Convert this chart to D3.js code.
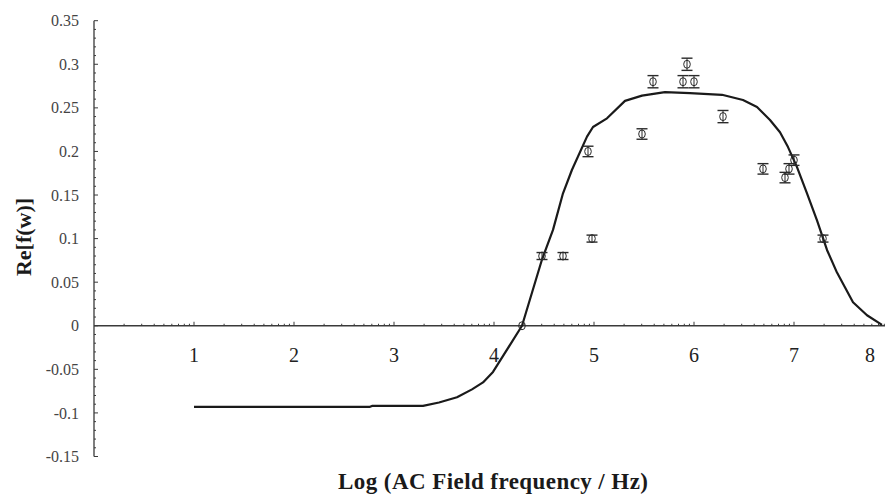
<!DOCTYPE html>
<html>
<head>
<meta charset="utf-8">
<script src="https://cdn.jsdelivr.net/npm/d3@7"></script>
<style>
  html, body { margin: 0; padding: 0; background: #fff; }
  svg { display: block; }
</style>
</head>
<body>
<svg id="chart" width="885" height="495"></svg>
<script>
// ---- data (x in log10 units of frequency) ----
const pointX   = [4.28, 4.48, 4.69, 4.94, 4.98, 5.48, 5.59, 5.89, 5.93, 6.00, 6.29, 6.69, 6.91, 6.95, 7.00, 7.29];
const pointY   = [0.00, 0.08, 0.08, 0.20, 0.10, 0.22, 0.28, 0.28, 0.30, 0.28, 0.24, 0.18, 0.17, 0.18, 0.19, 0.10];
const pointErr = [0.000, 0.004, 0.004, 0.006, 0.004, 0.006, 0.007, 0.007, 0.007, 0.007, 0.007, 0.006, 0.006, 0.006, 0.006, 0.004];

const curveX = [1.00, 2.76, 2.78, 3.29, 3.45, 3.63, 3.78, 3.89, 3.99, 4.28, 4.48, 4.59, 4.69, 4.78, 4.93, 4.99, 5.13, 5.31, 5.48, 5.71, 5.96, 6.28, 6.49, 6.63, 6.76, 6.86, 6.94, 7.03, 7.13, 7.23, 7.33, 7.43, 7.59, 7.73, 7.88];
const curveY = [-0.093, -0.093, -0.092, -0.092, -0.088, -0.082, -0.073, -0.065, -0.053, 0.000, 0.076, 0.110, 0.152, 0.179, 0.217, 0.228, 0.238, 0.258, 0.264, 0.268, 0.267, 0.265, 0.259, 0.251, 0.236, 0.222, 0.205, 0.182, 0.152, 0.121, 0.087, 0.061, 0.027, 0.012, 0.001];

const yTickValues = [-0.15, -0.1, -0.05, 0, 0.05, 0.1, 0.15, 0.2, 0.25, 0.3, 0.35];
const yTickLabels = ["-0.15", "-0.1", "-0.05", "0", "0.05", "0.1", "0.15", "0.2", "0.25", "0.3", "0.35"];
const xTickValues = [1, 2, 3, 4, 5, 6, 7, 8];
const xTickLabels = ["1", "2", "3", "4", "5", "6", "7", "8"];
const xTitle = "Log (AC Field frequency / Hz)";
const yTitle = "Re[f(w)]";

// ---- scales ----
const x = d3.scaleLinear().domain([0, 8]).range([94, 894]);
const y = d3.scaleLinear().domain([-0.15, 0.35]).range([456.5, 20.7]);

const svg = d3.select("#chart");
const axisColor = "#3a3a3a";

// y axis
const gy = svg.append("g");
gy.append("line")
  .attr("x1", x(0)).attr("x2", x(0))
  .attr("y1", y(-0.15)).attr("y2", y(0.35))
  .attr("stroke", axisColor).attr("stroke-width", 1.3);
const yMinor = d3.range(-15, 36).map(d => d / 100);
gy.selectAll("line.minor").data(yMinor).join("line")
  .attr("class", "minor")
  .attr("x1", x(0)).attr("x2", (d) => x(0) + (Math.abs(Math.round(d * 100) % 5) === 0 ? 4 : 2))
  .attr("y1", d => y(d)).attr("y2", d => y(d))
  .attr("stroke", axisColor).attr("stroke-width", 1);
gy.selectAll("text").data(yTickValues).join("text")
  .attr("x", 79).attr("y", d => y(d))
  .attr("dy", "0.35em")
  .attr("text-anchor", "end")
  .attr("font-family", "'Liberation Serif', 'DejaVu Serif', serif")
  .attr("font-size", 16)
  .attr("fill", "#444")
  .text((d, i) => yTickLabels[i]);

// x axis at y = 0
const gx = svg.append("g");
gx.append("line")
  .attr("x1", x(0)).attr("x2", 885)
  .attr("y1", y(0)).attr("y2", y(0))
  .attr("stroke", axisColor).attr("stroke-width", 1.3);
const xMinor = [];
for (let dec = 0; dec < 8; dec++) {
  for (let m = 2; m <= 10; m++) xMinor.push({ v: dec + Math.log10(m), major: m === 10 });
}
gx.selectAll("line.tick").data(xMinor.filter(d => x(d.v) <= 885)).join("line")
  .attr("class", "tick")
  .attr("x1", d => x(d.v)).attr("x2", d => x(d.v))
  .attr("y1", y(0)).attr("y2", d => y(0) - (d.major ? 4 : 2))
  .attr("stroke", axisColor).attr("stroke-width", 1);
gx.selectAll("text").data(xTickValues).join("text")
  .attr("x", d => Math.min(x(d), 870))
  .attr("y", 362)
  .attr("text-anchor", "middle")
  .attr("font-family", "'Liberation Serif', 'DejaVu Serif', serif")
  .attr("font-size", 20)
  .attr("fill", "#222")
  .text((d, i) => xTickLabels[i]);

// curve
const curve = curveX.map((d, i) => [d, curveY[i]]);
svg.append("path")
  .datum(curve)
  .attr("d", d3.line().x(d => x(d[0])).y(d => y(d[1])))
  .attr("fill", "none")
  .attr("stroke", "#1a1a1a")
  .attr("stroke-width", 2.2)
  .attr("stroke-linejoin", "round");

// points with error bars
const pts = pointX.map((d, i) => ({ x: pointX[i], y: pointY[i], e: pointErr[i] }));
const gp = svg.append("g").attr("stroke", "#2a2a2a").attr("fill", "none");
const withErr = pts.filter(d => d.e > 0);
gp.selectAll("line.bar").data(withErr).join("line")
  .attr("class", "bar")
  .attr("x1", d => x(d.x)).attr("x2", d => x(d.x))
  .attr("y1", d => y(d.y - d.e)).attr("y2", d => y(d.y + d.e))
  .attr("stroke-width", 1);
gp.selectAll("line.capTop").data(withErr).join("line")
  .attr("class", "capTop")
  .attr("x1", d => x(d.x) - 5.5).attr("x2", d => x(d.x) + 5.5)
  .attr("y1", d => y(d.y + d.e)).attr("y2", d => y(d.y + d.e))
  .attr("stroke-width", 1.4);
gp.selectAll("line.capBot").data(withErr).join("line")
  .attr("class", "capBot")
  .attr("x1", d => x(d.x) - 5.5).attr("x2", d => x(d.x) + 5.5)
  .attr("y1", d => y(d.y - d.e)).attr("y2", d => y(d.y - d.e))
  .attr("stroke-width", 1.4);
gp.selectAll("ellipse").data(pts).join("ellipse")
  .attr("cx", d => x(d.x)).attr("cy", d => y(d.y))
  .attr("rx", 3.3).attr("ry", 4)
  .attr("stroke-width", 1);

// titles
svg.append("text")
  .attr("x", 493).attr("y", 489)
  .attr("text-anchor", "middle")
  .attr("font-family", "'Liberation Serif', 'DejaVu Serif', serif")
  .attr("font-weight", "bold")
  .attr("font-size", 23)
  .attr("fill", "#1a1a1a")
  .attr("textLength", 310)
  .attr("lengthAdjust", "spacing")
  .text(xTitle);

svg.append("text")
  .attr("transform", "translate(23,237) rotate(-90)")
  .attr("text-anchor", "middle")
  .attr("dy", "0.35em")
  .attr("font-family", "'Liberation Serif', 'DejaVu Serif', serif")
  .attr("font-weight", "bold")
  .attr("font-size", 22)
  .attr("fill", "#1a1a1a")
  .text(yTitle);
</script>
</body>
</html>
